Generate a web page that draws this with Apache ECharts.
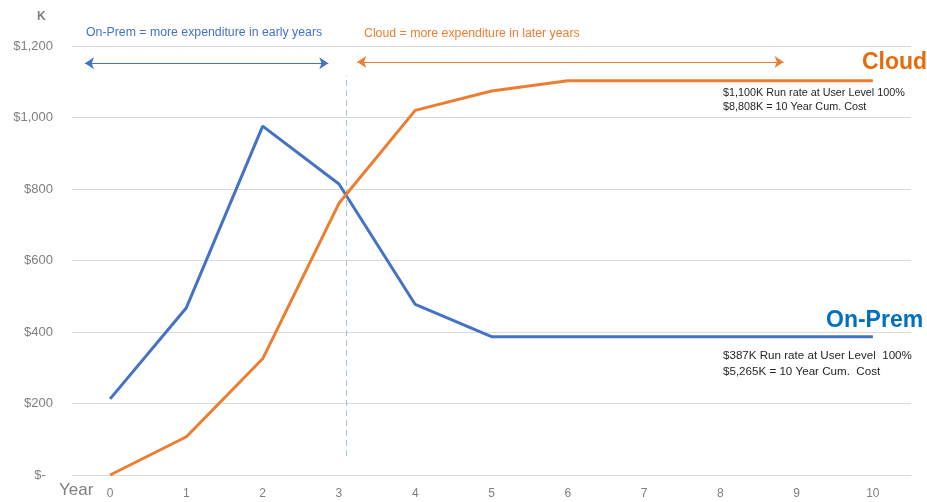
<!DOCTYPE html>
<html>
<head>
<meta charset="utf-8">
<script src="https://cdn.jsdelivr.net/npm/echarts@6/dist/echarts.min.js"></script>
<style>
  html, body { margin: 0; padding: 0; background: #fff; }
  #main { width: 927px; height: 502px; }
</style>
</head>
<body>
<div id="main"></div>
<script>
    var years = ['0', '1', '2', '3', '4', '5', '6', '7', '8', '9', '10'];
    var onPrem = [213, 468, 976, 814, 477, 387, 387, 387, 387, 387, 387];
    var cloud = [0, 107, 325, 760, 1020, 1074, 1103, 1103, 1103, 1103, 1103];
    var yTicks = [0, 200, 400, 600, 800, 1000, 1200];
    // divider and arrow spans, in year units
    var divider = [[3.1, 53], [3.1, 1118]];
    var onPremSpan = [[-0.33, 1152], [2.86, 1152]];
    var cloudSpan = [[3.24, 1155], [8.83, 1155]];

    var blue = '#4472C4';
    var orange = '#ED7D31';
    var font = '"Liberation Sans", sans-serif';

    var myChart = echarts.init(document.getElementById('main'));
    option = {
        animation: false,
        grid: { left: 72, right: 16, top: 46, bottom: 27 },
        xAxis: [
          {
            type: 'category',
            data: years,
            boundaryGap: true,
            axisLine: { lineStyle: { color: '#d9d9d9' } },
            axisTick: { show: false },
            axisLabel: { color: '#7f7f7f', fontSize: 12, fontFamily: font, margin: 13 }
          },
          { type: 'value', min: -0.5, max: 10.5, show: false }
        ],
        yAxis: {
          type: 'value',
          min: yTicks[0],
          max: yTicks[yTicks.length - 1],
          interval: 200,
          axisLine: { show: false },
          axisTick: { show: false },
          splitLine: { lineStyle: { color: '#d9d9d9' } },
          axisLabel: {
            color: '#7f7f7f', fontSize: 13, fontFamily: font, margin: 19,
            formatter: function (v) { return v === 0 ? '$-  ' : '$' + v.toLocaleString('en-US'); }
          }
        },
        series: [
          {
            name: 'On-Prem', type: 'line', data: onPrem,
            symbol: 'none', lineStyle: { color: blue, width: 3 }, z: 3
          },
          {
            name: 'Cloud', type: 'line', data: cloud,
            symbol: 'none', lineStyle: { color: orange, width: 3 }, z: 4
          },
          {
            type: 'line', xAxisIndex: 1, data: divider, symbol: 'none',
            lineStyle: { color: '#9dc3e6', width: 1, type: [6, 4] },
            markLine: {
              silent: true, symbol: ['arrow', 'arrow'], symbolSize: 9,
              label: { show: false },
              data: [
                [{ coord: onPremSpan[0], lineStyle: { color: blue, width: 1.2, type: 'solid' } },
                 { coord: onPremSpan[1] }],
                [{ coord: cloudSpan[0], lineStyle: { color: orange, width: 1.2, type: 'solid' } },
                 { coord: cloudSpan[1] }]
              ]
            }
          }
        ],
        graphic: [
          { type: 'text', left: 37, top: 11, style: { text: 'K', font: 'bold 12px ' + font, fill: '#7f7f7f' } },
          { type: 'text', left: 59, top: 482, style: { text: 'Year', font: '17px ' + font, fill: '#7f7f7f' } },
          { type: 'text', left: 86, top: 27, style: { text: 'On-Prem = more expenditure in early years', font: '12.3px ' + font, fill: blue } },
          { type: 'text', left: 364, top: 28, style: { text: 'Cloud = more expenditure in later years', font: '12.3px ' + font, fill: orange } },
          { type: 'text', left: 862, top: 51, style: { text: 'Cloud', font: 'bold 23px ' + font, fill: '#E46C0A' } },
          { type: 'text', left: 723, top: 86, style: { text: '$1,100K Run rate at User Level 100%\n$8,808K = 10 Year Cum. Cost', font: '10.8px ' + font, fill: '#262626', lineHeight: 14 } },
          { type: 'text', left: 826, top: 309, style: { text: 'On-Prem', font: 'bold 23px ' + font, fill: '#0070C0' } },
          { type: 'text', left: 723, top: 348, style: { text: '$387K Run rate at User Level  100%\n$5,265K = 10 Year Cum.  Cost', font: '11.6px ' + font, fill: '#262626', lineHeight: 16 } }
        ]
    };
    myChart.setOption(option);
</script>
</body>
</html>
